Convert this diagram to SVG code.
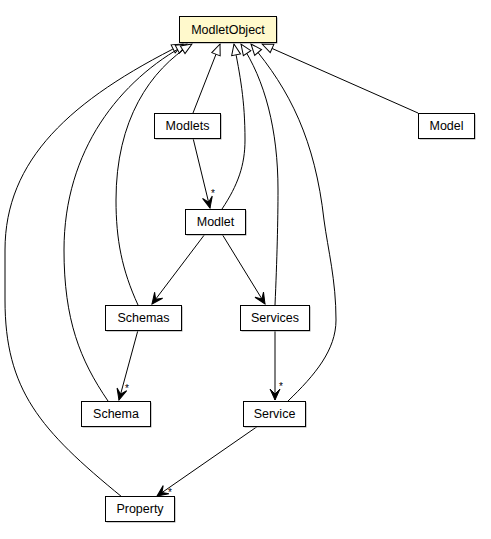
<svg xmlns="http://www.w3.org/2000/svg" width="491" height="539" viewBox="0 0 491 539">
<style>
.box{fill:#ffffff;stroke:#000000;stroke-width:1}
.shadow{fill:#9a9a9a}
.root{fill:#fff9cc}
.lbl{font-family:"Liberation Sans",Arial,sans-serif;font-size:12.5px;fill:#000000;text-anchor:middle}
.star{font-family:"Liberation Sans",Arial,sans-serif;font-size:10px;fill:#000000;text-anchor:middle}
.gen{fill:none;stroke:#000000;stroke-width:1;marker-end:url(#hollow)}
.asc{fill:none;stroke:#000000;stroke-width:1;marker-end:url(#vee)}
</style>
<defs>
<marker id="hollow" viewBox="-12 -7 13 14" refX="0" refY="0" markerWidth="13" markerHeight="14" markerUnits="userSpaceOnUse" orient="auto">
<path d="M0,0 L-11,-4.5 L-11,4.5 Z" fill="#ffffff" stroke="#000000" stroke-width="1"/>
</marker>
<marker id="vee" viewBox="-12 -7 13 14" refX="0" refY="0" markerWidth="13" markerHeight="14" markerUnits="userSpaceOnUse" orient="auto">
<path d="M0,0 L-11,-5 L-6,0 L-11,5 Z" fill="#000000" stroke="#000000" stroke-width="1" stroke-linejoin="miter"/>
</marker>
</defs>
<rect width="491" height="539" fill="#ffffff"/>
<g id="connectors">
<path class="gen" d="M122,497 C40,430 5,390 5,300 L5,250 C5,160 70,100 183,44"/>
<path class="gen" d="M108,401 C80,360 64,320 64,250 C64,150 120,80 187,44"/>
<path class="gen" d="M138,305 C122,270 116,240 116,200 C116,120 150,70 192,44"/>
<path class="gen" d="M193,113 L220,44"/>
<path class="gen" d="M222,209 C238,185 245,165 245,140 C245,100 240,75 234,44"/>
<path class="gen" d="M275,305 C277,260 278,220 278,190 C278,130 265,80 241,44"/>
<path class="gen" d="M288,401 C315,375 336,350 336,320 C336,280 328,250 324,220 C315,140 290,90 251,44"/>
<path class="gen" d="M418,113 L262,44"/>
<path class="asc" d="M193,138 L210,208"/>
<path class="asc" d="M205,234 L152,304"/>
<path class="asc" d="M222,234 L265,304"/>
<path class="asc" d="M138,330 L119,400"/>
<path class="asc" d="M275,330 L275,400"/>
<path class="asc" d="M258,426 L157,496"/>
<text class="star" x="213" y="196.5">*</text>
<text class="star" x="127" y="391.5">*</text>
<text class="star" x="281" y="389.5">*</text>
<text class="star" x="170" y="495.5">*</text>
</g>
<g id="ModletObject">
<rect class="shadow" x="180.5" y="17.5" width="97" height="26"/>
<rect class="box root" x="179.5" y="16.5" width="97" height="26"/>
<text class="lbl" x="228" y="33.5">ModletObject</text>
</g>
<g id="Modlets">
<rect class="shadow" x="155.5" y="114.5" width="66" height="25"/>
<rect class="box" x="154.5" y="113.5" width="66" height="25"/>
<text class="lbl" x="187.5" y="130">Modlets</text>
</g>
<g id="Model">
<rect class="shadow" x="419.5" y="114.5" width="56" height="25"/>
<rect class="box" x="418.5" y="113.5" width="56" height="25"/>
<text class="lbl" x="446.5" y="130">Model</text>
</g>
<g id="Modlet">
<rect class="shadow" x="186.5" y="210.5" width="60" height="25"/>
<rect class="box" x="185.5" y="209.5" width="60" height="25"/>
<text class="lbl" x="215.5" y="226">Modlet</text>
</g>
<g id="Schemas">
<rect class="shadow" x="106.5" y="306.5" width="76" height="25"/>
<rect class="box" x="105.5" y="305.5" width="76" height="25"/>
<text class="lbl" x="143.5" y="322">Schemas</text>
</g>
<g id="Services">
<rect class="shadow" x="241.5" y="306.5" width="69" height="25"/>
<rect class="box" x="240.5" y="305.5" width="69" height="25"/>
<text class="lbl" x="275" y="322">Services</text>
</g>
<g id="Schema">
<rect class="shadow" x="82.5" y="402.5" width="69" height="25"/>
<rect class="box" x="81.5" y="401.5" width="69" height="25"/>
<text class="lbl" x="116" y="418">Schema</text>
</g>
<g id="Service">
<rect class="shadow" x="244.5" y="402.5" width="62" height="25"/>
<rect class="box" x="243.5" y="401.5" width="62" height="25"/>
<text class="lbl" x="274.5" y="418">Service</text>
</g>
<g id="Property">
<rect class="shadow" x="106.5" y="497.5" width="69" height="25"/>
<rect class="box" x="105.5" y="496.5" width="69" height="25"/>
<text class="lbl" x="140" y="513">Property</text>
</g>
</svg>
